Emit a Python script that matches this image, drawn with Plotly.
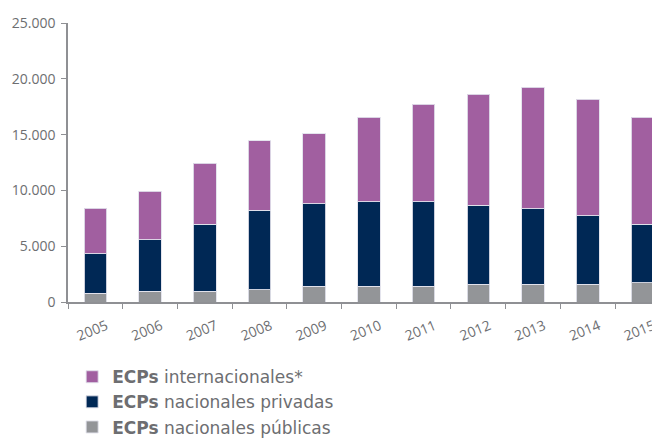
import plotly.graph_objects as go

years = ["2005", "2006", "2007", "2008", "2009", "2010", "2011", "2012", "2013", "2014", "2015"]
publicas = [800, 950, 950, 1100, 1400, 1400, 1400, 1570, 1570, 1570, 1720]
privadas = [3540, 4640, 6020, 7110, 7410, 7580, 7580, 7120, 6790, 6160, 5240]
internacionales = [4050, 4320, 5450, 6220, 6250, 7590, 8720, 9940, 10890, 10420, 9610]

names = ["<b>ECPs</b> nacionales públicas", "<b>ECPs</b> nacionales privadas", "<b>ECPs</b> internacionales*"]
colors = ["#939598", "#002855", "#A15FA0"]
series = [publicas, privadas, internacionales]

fig = go.Figure()
for nm, col, vals in zip(names, colors, series):
    fig.add_trace(go.Bar(
        x=years, y=vals, name=nm,
        marker=dict(color=col, line=dict(color="rgba(225,225,235,0.9)", width=1)),
        width=0.415,
    ))

text_col = "#6d6e71"
axis_col = "#8f9094"
tick_font = "Open Sans, sans-serif"
# page body has an 8px margin, so the figure is drawn 8px smaller and offset
fig.update_layout(
    width=652, height=430,
    barmode="stack",
    separators=",.",
    plot_bgcolor="white", paper_bgcolor="white",
    margin=dict(l=60, r=0, t=15, b=136, autoexpand=False),
    font=dict(family="Open Sans", color=text_col, size=14),
    showlegend=True,
    legend=dict(
        x=0.007, y=-0.205, xanchor="left", yanchor="top",
        traceorder="reversed",
        font=dict(family="DejaVu Sans", size=17, color=text_col),
        tracegroupgap=0, bgcolor="rgba(0,0,0,0)",
    ),
    xaxis=dict(
        type="category", range=[-0.5, 10.32],
        showline=True, linecolor=axis_col, linewidth=1.5,
        ticks="outside", tickson="boundaries", ticklen=5, tickcolor=axis_col, tickwidth=1.2,
        tickangle=-22, ticklabelshift=11, ticklabelstandoff=9,
        tickfont=dict(family=tick_font, size=14, color=text_col),
        showgrid=False, zeroline=False, automargin=False,
    ),
    yaxis=dict(
        range=[0, 25000], tickvals=[0, 5000, 10000, 15000, 20000, 25000], tickformat=",d",
        showline=True, linecolor=axis_col, linewidth=1.5,
        ticks="outside", ticklen=5, tickcolor=axis_col, tickwidth=1.2,
        ticklabelstandoff=3,
        tickfont=dict(family=tick_font, size=14, color=text_col),
        showgrid=False, zeroline=False, automargin=False,
    ),
)

fig.write_html("out.html")
